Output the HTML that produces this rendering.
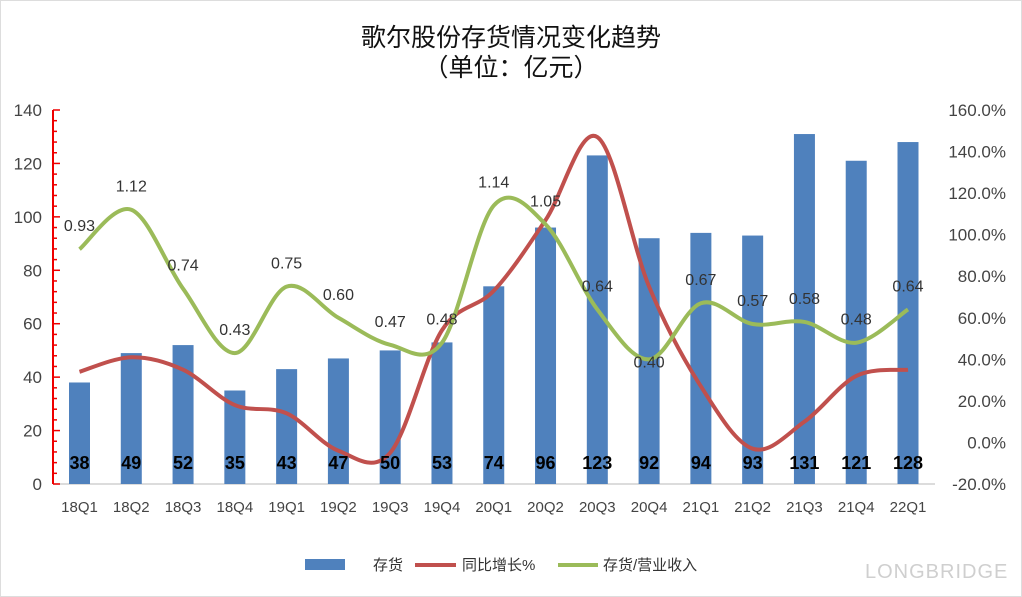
<!DOCTYPE html>
<html><head><meta charset="utf-8"><style>
html,body{margin:0;padding:0;background:#fff;}
svg{display:block;font-family:"Liberation Sans","Noto Sans CJK SC",sans-serif;}
</style></head><body>
<svg id="chart" width="1022" height="597" viewBox="0 0 1022 597">
<rect x="0.5" y="0.5" width="1021" height="596" fill="#fff" stroke="#ddd"/>
<text x="511" y="46" font-size="25" text-anchor="middle" fill="#111">歌尔股份存货情况变化趋势</text>
<text x="511" y="76" font-size="25" text-anchor="middle" fill="#111">（单位：亿元）</text>
<text x="865" y="578" font-size="20" fill="#cfcfcf" letter-spacing="1">LONGBRIDGE</text>
<g id="plot"></g>
<g>
<rect x="305" y="559" width="40" height="11" fill="#4f81bd"/>
<text x="373" y="570" font-size="15" fill="#333">存货</text>
<line x1="415" y1="565" x2="456" y2="565" stroke="#c0504d" stroke-width="4"/>
<text x="462" y="570" font-size="15" fill="#333">同比增长%</text>
<line x1="558" y1="565" x2="598" y2="565" stroke="#9bbb59" stroke-width="4"/>
<text x="603" y="570" font-size="15" fill="#333">存货/营业收入</text>
</g>
</svg>
<script>
const categories=["18Q1","18Q2","18Q3","18Q4","19Q1","19Q2","19Q3","19Q4","20Q1","20Q2","20Q3","20Q4","21Q1","21Q2","21Q3","21Q4","22Q1"];
const inventory=[38,49,52,35,43,47,50,53,74,96,123,92,94,93,131,121,128];
const yoyGrowth=[34,41,35,18,14,-4,-5,54,73,107,147,75,27,-3,10,32,35];
const ratio=[0.93,1.12,0.74,0.43,0.75,0.60,0.47,0.48,1.14,1.05,0.64,0.40,0.67,0.57,0.58,0.48,0.64];
const leftTicks=[0,20,40,60,80,100,120,140];
const rightTicks=[-20,0,20,40,60,80,100,120,140,160];
const NS="http://www.w3.org/2000/svg";
const g=document.getElementById('plot');
const X0=53,X1=935,YB=484,YT=110;
const xs=i=>79.5+i*(908-79.5)/(categories.length-1);
const yL=v=>YB-(v/140)*(YB-YT);
const yR=v=>YB-((v+20)/180)*(YB-YT);
function mk(tag,attrs,txt){const e=document.createElementNS(NS,tag);for(const k in attrs)e.setAttribute(k,attrs[k]);if(txt!==undefined)e.textContent=txt;g.appendChild(e);return e;}
let ax=mk('line',{x1:X0,y1:YB,x2:X1,y2:YB,stroke:'#d0d0d0','stroke-width':1.5});


let la=mk('line',{x1:X0,y1:YT,x2:X0,y2:YB,stroke:'#e00','stroke-width':2});


for(let v=0;v<=140;v+=4){const y=yL(v);const major=v%20===0;
 const t=mk('line',{x1:X0,y1:y,x2:X0+(major?7:4),y2:y,stroke:'#e00','stroke-width':1.5});
 
 }
leftTicks.forEach(v=>{const t=mk('text',{x:42,y:yL(v)+6,'font-size':17,'text-anchor':'end',fill:'#444'},String(v));
 
 });
rightTicks.forEach(v=>{const t=mk('text',{x:1006,y:yR(v)+6,'font-size':17,'text-anchor':'end',fill:'#444'},v.toFixed(1)+'%');
 
 });
categories.forEach((c,i)=>{const t=mk('text',{x:xs(i),y:512,'font-size':15,'text-anchor':'middle',fill:'#444'},c);
 
 });
inventory.forEach((v,i)=>{const b=mk('rect',{x:xs(i)-10.5,y:yL(v),width:21,height:YB-yL(v),fill:'#4f81bd'});
 
 });
function smooth(pts){let d='M'+pts[0][0]+','+pts[0][1];
 for(let i=0;i<pts.length-1;i++){const p0=pts[i-1]||pts[i],p1=pts[i],p2=pts[i+1],p3=pts[i+2]||p2;
  const c1=[p1[0]+(p2[0]-p0[0])/6,p1[1]+(p2[1]-p0[1])/6],c2=[p2[0]-(p3[0]-p1[0])/6,p2[1]-(p3[1]-p1[1])/6];
  d+=' C'+c1+' '+c2+' '+p2;}return d;}
const red=mk('path',{d:smooth(yoyGrowth.map((v,i)=>[xs(i),yR(v)])),fill:'none',stroke:'#c0504d','stroke-width':4});


const green=mk('path',{d:smooth(ratio.map((v,i)=>[xs(i),yR(v*100)])),fill:'none',stroke:'#9bbb59','stroke-width':4});


ratio.forEach((v,i)=>{const dy=(i===11)?8:-18;const t=mk('text',{x:xs(i),y:yR(v*100)+dy,'font-size':16,'text-anchor':'middle',fill:'#333'},v.toFixed(2));
 
 });
inventory.forEach((v,i)=>{const t=mk('text',{x:xs(i),y:469,'font-size':18,'font-weight':'bold','text-anchor':'middle',fill:'#000'},String(v));
 
 });
</script>
</body></html>
